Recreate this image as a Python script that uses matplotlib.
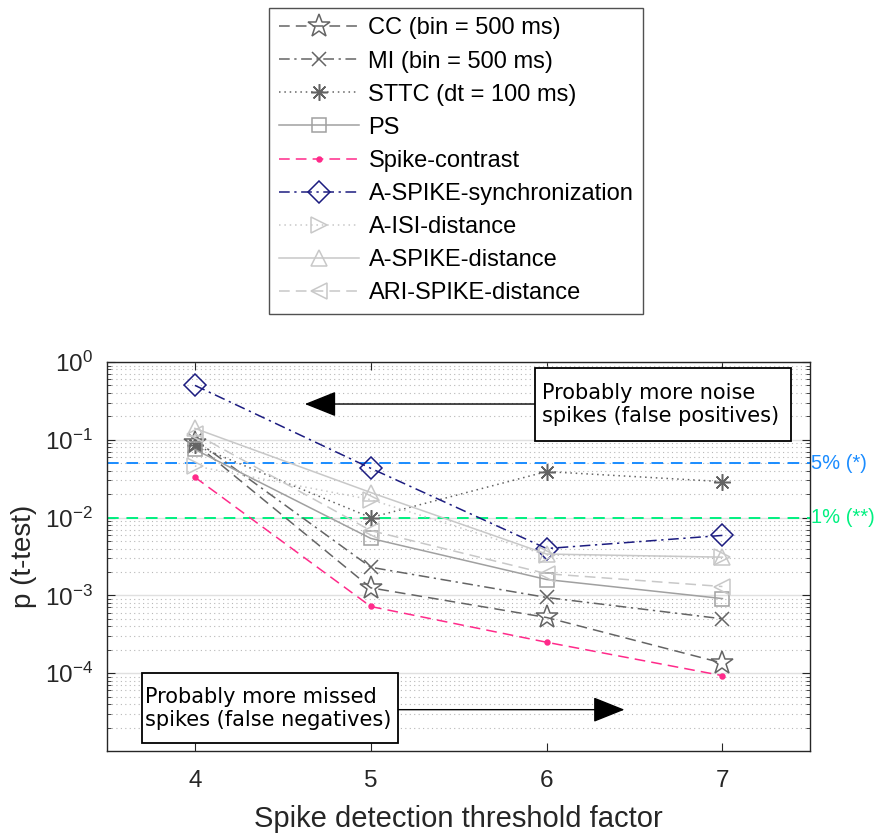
import matplotlib
matplotlib.use("Agg")
import matplotlib.pyplot as plt
from matplotlib.patches import Rectangle
import numpy as np

plt.rcParams['font.family'] = ['Liberation Sans', 'DejaVu Sans']
plt.rcParams['mathtext.fontset'] = 'custom'
plt.rcParams['mathtext.rm'] = 'Liberation Sans'
plt.rcParams['mathtext.default'] = 'regular'

thresholds = [4, 5, 6, 7]
labels = ['CC (bin = 500 ms)', 'MI (bin = 500 ms)', 'STTC (dt = 100 ms)', 'PS',
          'Spike-contrast', 'A-SPIKE-synchronization', 'A-ISI-distance',
          'A-SPIKE-distance', 'ARI-SPIKE-distance']
p_cc = [0.09, 0.00125, 0.00052, 0.000135]
p_mi = [0.10, 0.0023, 0.00094, 0.0005]
p_sttc = [0.085, 0.010, 0.039, 0.029]
p_ps = [0.075, 0.0054, 0.0016, 0.00091]
p_sc = [0.033, 0.00072, 0.00025, 0.000093]
p_async = [0.50, 0.043, 0.0040, 0.0059]
p_aisi = [0.046, 0.017, 0.0033, 0.0031]
p_aspike = [0.14, 0.021, 0.0034, 0.0031]
p_ari = [0.12, 0.0068, 0.0019, 0.0013]
alpha_levels = [0.05, 0.01]
alpha_labels = ['5% (*)', '1% (**)']
ytick_vals = [1e-4, 1e-3, 1e-2, 1e-1, 1e0]
ytick_labels = [r'$10^{-4}$', r'$10^{-3}$', r'$10^{-2}$', r'$10^{-1}$', r'$10^{0}$']

dark = '#646464'
mid = '#a0a0a0'
light = '#c8c8c8'
styles = [
    dict(color=dark, ls=(0, (7, 4)), marker='*', ms=17, mfc='none'),
    dict(color=dark, ls=(0, (7, 3, 1.5, 3)), marker='x', ms=10),
    dict(color=dark, ls=(0, (1, 2.5)), marker=(8, 2, 0), ms=12),
    dict(color=mid, ls='-', marker='s', ms=10, mfc='none'),
    dict(color='#ff2a8a', ls=(0, (7, 4)), marker='.', ms=7),
    dict(color='#1c1c80', ls=(0, (7, 3, 1.5, 3)), marker='D', ms=11, mfc='none'),
    dict(color=light, ls=(0, (1, 2.5)), marker='>', ms=12, mfc='none'),
    dict(color=light, ls='-', marker='^', ms=12, mfc='none'),
    dict(color=light, ls=(0, (7, 4)), marker='<', ms=12, mfc='none'),
]
series = [p_cc, p_mi, p_sttc, p_ps, p_sc, p_async, p_aisi, p_aspike, p_ari]

fig = plt.figure(figsize=(8.77, 8.34), dpi=100)
ax = fig.add_axes([0.122, 0.0995, 0.802, 0.4665])

handles = []
for lab, vals, st in zip(labels, series, styles):
    h, = ax.plot(thresholds, vals, lw=1.1, mew=1.1, label=lab, zorder=3, **st)
    handles.append(h)

al_colors = ['#1a8cff', '#00f080']
for lev, lab, c in zip(alpha_levels, alpha_labels, al_colors):
    ax.axhline(lev, color=c, ls=(0, (6, 4)), lw=1.4, zorder=2)
    ax.text(1.0005, lev, lab, transform=ax.get_yaxis_transform(), color=c,
            fontsize=14.5, va='center', ha='left')

ax.set_yscale('log')
ax.set_ylim(1e-5, 1)
ax.set_xlim(3.5, 7.5)
ax.set_xticks(thresholds)
ax.set_yticks(ytick_vals)
ax.set_yticklabels(ytick_labels)
ax.tick_params(axis='both', which='both', direction='in', top=True, right=True,
               labelsize=17.5, colors='#262626')
ax.tick_params(axis='x', pad=14)
ax.tick_params(axis='y', pad=10)
ax.tick_params(which='major', length=6)
ax.tick_params(which='minor', length=3)
ax.yaxis.grid(True, which='major', color='#e0e0e0', lw=1.0, zorder=0)
ax.yaxis.grid(True, which='minor', color='#b8b8b8', ls=(0, (1, 3)), lw=0.8, zorder=0)
ax.set_axisbelow(True)
for s in ax.spines.values():
    s.set_color('#262626')
    s.set_linewidth(1.0)

ax.set_xlabel('Spike detection threshold factor', fontsize=21, color='#262626', labelpad=9)
ax.set_ylabel('p (t-test)', fontsize=20, color='#262626', labelpad=6)

# annotations
arrow_style = dict(arrowstyle='-|>,head_length=1.0,head_width=0.4',
                   color='black', lw=1.0, mutation_scale=20, shrinkA=0, shrinkB=0)
ax.annotate('', xy=(4.625, 0.288), xytext=(5.94, 0.288), arrowprops=arrow_style, zorder=5)
ax.add_patch(Rectangle((5.935, 0.096), 7.392 - 5.935, 0.83 - 0.096, fc='white', ec='black',
                       lw=1.3, zorder=6))
ax.text(5.975, 0.285, 'Probably more noise\nspikes (false positives)', family='DejaVu Sans',
        fontsize=15, ha='left', va='center', zorder=7, linespacing=1.15)

ax.annotate('', xy=(6.443, 3.4e-5), xytext=(5.153, 3.4e-5), arrowprops=arrow_style, zorder=5)
ax.add_patch(Rectangle((3.699, 1.25e-5), 5.153 - 3.699, 1.01e-4 - 1.25e-5, fc='white',
                       ec='black', lw=1.3, zorder=6))
ax.text(3.715, 3.5e-5, 'Probably more missed\nspikes (false negatives)', family='DejaVu Sans',
        fontsize=15, ha='left', va='center', zorder=7, linespacing=1.15)

leg = fig.legend(handles=handles, loc='upper center', bbox_to_anchor=(0.52, 0.991),
                 fontsize=17, frameon=True, fancybox=False, handlelength=3.4,
                 handletextpad=0.4, labelspacing=0.47, borderpad=0.42, borderaxespad=0)
leg.get_frame().set_edgecolor('#262626')
leg.get_frame().set_linewidth(1.0)

fig.savefig('out.png', dpi=100)
